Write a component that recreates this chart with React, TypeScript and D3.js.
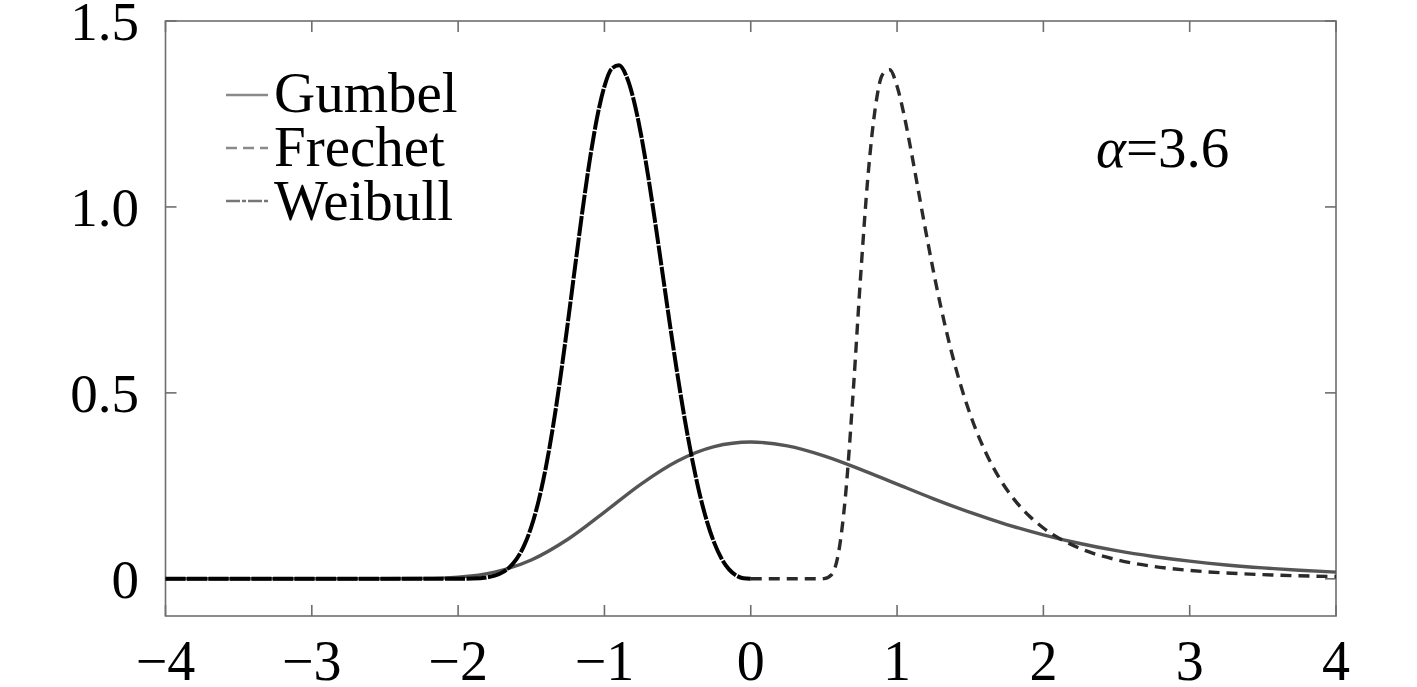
import React from "react";
import * as d3 from "d3";

// ---- data ----
const gumbelX = [-4, -3, -2.5, -2.25, -2, -1.75, -1.5, -1.25, -1, -0.75, -0.5, -0.25, 0, 0.25, 0.5, 0.75, 1, 1.25, 1.5, 1.75, 2, 2.25, 2.5, 2.75, 3, 3.25, 3.5, 3.75, 4];
const gumbelY = [0, 0, 0.00006, 0.00072, 0.00457, 0.0182, 0.0507, 0.1064, 0.1794, 0.2549, 0.317, 0.3556, 0.3679, 0.3574, 0.3307, 0.2945, 0.2546, 0.2151, 0.1785, 0.146, 0.1182, 0.0949, 0.0756, 0.06, 0.0474, 0.0373, 0.0293, 0.023, 0.018];

const frechetX = [0, 0.4, 0.45, 0.5, 0.55, 0.6, 0.65, 0.7, 0.75, 0.8, 0.85, 0.9, 0.95, 1.0, 1.05, 1.1, 1.15, 1.2, 1.25, 1.3, 1.4, 1.5, 1.6, 1.7, 1.8, 1.9, 2.0, 2.25, 2.5, 2.75, 3.0, 3.5, 4.0];
const frechetY = [0, 0, 0, 0.00047, 0.01033, 0.07008, 0.23384, 0.50178, 0.80835, 1.07714, 1.26297, 1.35574, 1.36899, 1.32436, 1.24314, 1.1422, 1.03397, 0.92637, 0.82415, 0.72994, 0.56858, 0.44197, 0.34465, 0.27035, 0.21366, 0.17023, 0.1367, 0.0818, 0.05126, 0.03342, 0.02256, 0.01119, 0.00608];

const weibullX = [-4, -3, -2.5, -2, -1.9, -1.8, -1.75, -1.7, -1.65, -1.6, -1.55, -1.5, -1.45, -1.4, -1.35, -1.3, -1.25, -1.2, -1.15, -1.1, -1.05, -1.0, -0.95, -0.9, -0.85, -0.8, -0.75, -0.7, -0.65, -0.6, -0.55, -0.5, -0.45, -0.4, -0.35, -0.3, -0.25, -0.2, -0.15, -0.1, -0.05, 0];
const weibullY = [0, 0, 0, 0.00005, 0.0007, 0.00413, 0.00854, 0.01664, 0.03068, 0.05354, 0.08854, 0.13957, 0.20952, 0.30039, 0.41294, 0.54407, 0.68952, 0.84131, 0.99042, 1.12671, 1.24083, 1.32436, 1.37191, 1.3807, 1.35164, 1.28773, 1.19482, 1.07972, 0.95002, 0.81374, 0.67721, 0.54677, 0.42667, 0.32037, 0.22963, 0.15527, 0.09726, 0.05466, 0.02593, 0.00904, 0.00149, 0];

const xTicks = [-4, -3, -2, -1, 0, 1, 2, 3, 4];
const xTickLabels = ["\u22124", "\u22123", "\u22122", "\u22121", "0", "1", "2", "3", "4"];
const yTicks = [0, 0.5, 1.0, 1.5];
const yTickLabels = ["0", "0.5", "1.0", "1.5"];

const legendNames = ["Gumbel", "Frechet", "Weibull"];
const annotation = { symbol: "\u03b1", rest: "=3.6" };

// ---- layout ----
const W = 1417;
const H = 687;
const left = 165.5;
const right = 1336;
const top = 21;
const bottom = 616;
const font = "'Liberation Serif', 'Times New Roman', serif";

export default function App() {
  const x = d3.scaleLinear().domain([-4, 4]).range([left, right]);
  const y = d3.scaleLinear().domain([-0.1, 1.5]).range([bottom, top]);

  const line = d3
    .line<[number, number]>()
    .x((d) => x(d[0]))
    .y((d) => y(d[1]))
    .curve(d3.curveMonotoneX);

  const zip = (a: number[], b: number[]) => a.map((v, i) => [v, b[i]] as [number, number]);

  const gPath = line(zip(gumbelX, gumbelY)) || "";
  const fPath = line(zip(frechetX, frechetY)) || "";
  const wPath = line(zip(weibullX, weibullY)) || "";

  const frameColor = "#6e6e6e";
  const tickLen = 11;

  const legendStyles = [
    { stroke: "#8a8a8a", dash: "none" },
    { stroke: "#8a8a8a", dash: "11 6" },
    { stroke: "#777", dash: "14 2 4 2" },
  ];

  return (
    <svg
      width={W}
      height={H}
      style={{ position: "absolute", left: 0, top: 0, background: "#fff" }}
    >
      <rect x={0} y={0} width={W} height={H} fill="#fff" />
      {/* frame */}
      <rect
        x={left}
        y={top}
        width={right - left}
        height={bottom - top}
        fill="none"
        stroke={frameColor}
        strokeWidth={1.6}
      />
      {/* x ticks (inward, bottom & top) */}
      {xTicks.map((t, i) => (
        <g key={"xt" + i}>
          <line x1={x(t)} x2={x(t)} y1={bottom} y2={bottom - tickLen} stroke={frameColor} strokeWidth={1.6} />
          <line x1={x(t)} x2={x(t)} y1={top} y2={top + tickLen} stroke={frameColor} strokeWidth={1.6} />
          <text
            x={x(t)}
            y={680}
            textAnchor="middle"
            fontFamily={font}
            fontSize={56}
            fill="#000"
          >
            {xTickLabels[i]}
          </text>
        </g>
      ))}
      {/* y ticks (inward, left & right) */}
      {yTicks.map((t, i) => (
        <g key={"yt" + i}>
          <line x1={left} x2={left + tickLen} y1={y(t)} y2={y(t)} stroke={frameColor} strokeWidth={1.6} />
          <line x1={right} x2={right - tickLen} y1={y(t)} y2={y(t)} stroke={frameColor} strokeWidth={1.6} />
          <text
            x={139}
            y={y(t) + 19}
            textAnchor="end"
            fontFamily={font}
            fontSize={55}
            fill="#000"
          >
            {yTickLabels[i]}
          </text>
        </g>
      ))}

      {/* curves */}
      <path d={gPath} fill="none" stroke="#555" strokeWidth={3.4} />
      <path d={fPath} fill="none" stroke="#2a2a2a" strokeWidth={3.4} strokeDasharray="11 7" />
      <path d={wPath} fill="none" stroke="#000" strokeWidth={4} strokeDasharray="20 1.5" />

      {/* legend */}
      {legendNames.map((name, i) => (
        <g key={name}>
          <line
            x1={226}
            x2={268}
            y1={95 + i * 53}
            y2={95 + i * 53}
            stroke={legendStyles[i].stroke}
            strokeWidth={2.6}
            strokeDasharray={legendStyles[i].dash}
          />
          <text x={274} y={112 + i * 54} fontFamily={font} fontSize={57} fill="#000">
            {name}
          </text>
        </g>
      ))}

      {/* annotation */}
      <text x={1096} y={167} fontFamily={font} fontSize={57} fill="#000">
        <tspan fontStyle="italic">{annotation.symbol}</tspan>
        <tspan>{annotation.rest}</tspan>
      </text>
    </svg>
  );
}
